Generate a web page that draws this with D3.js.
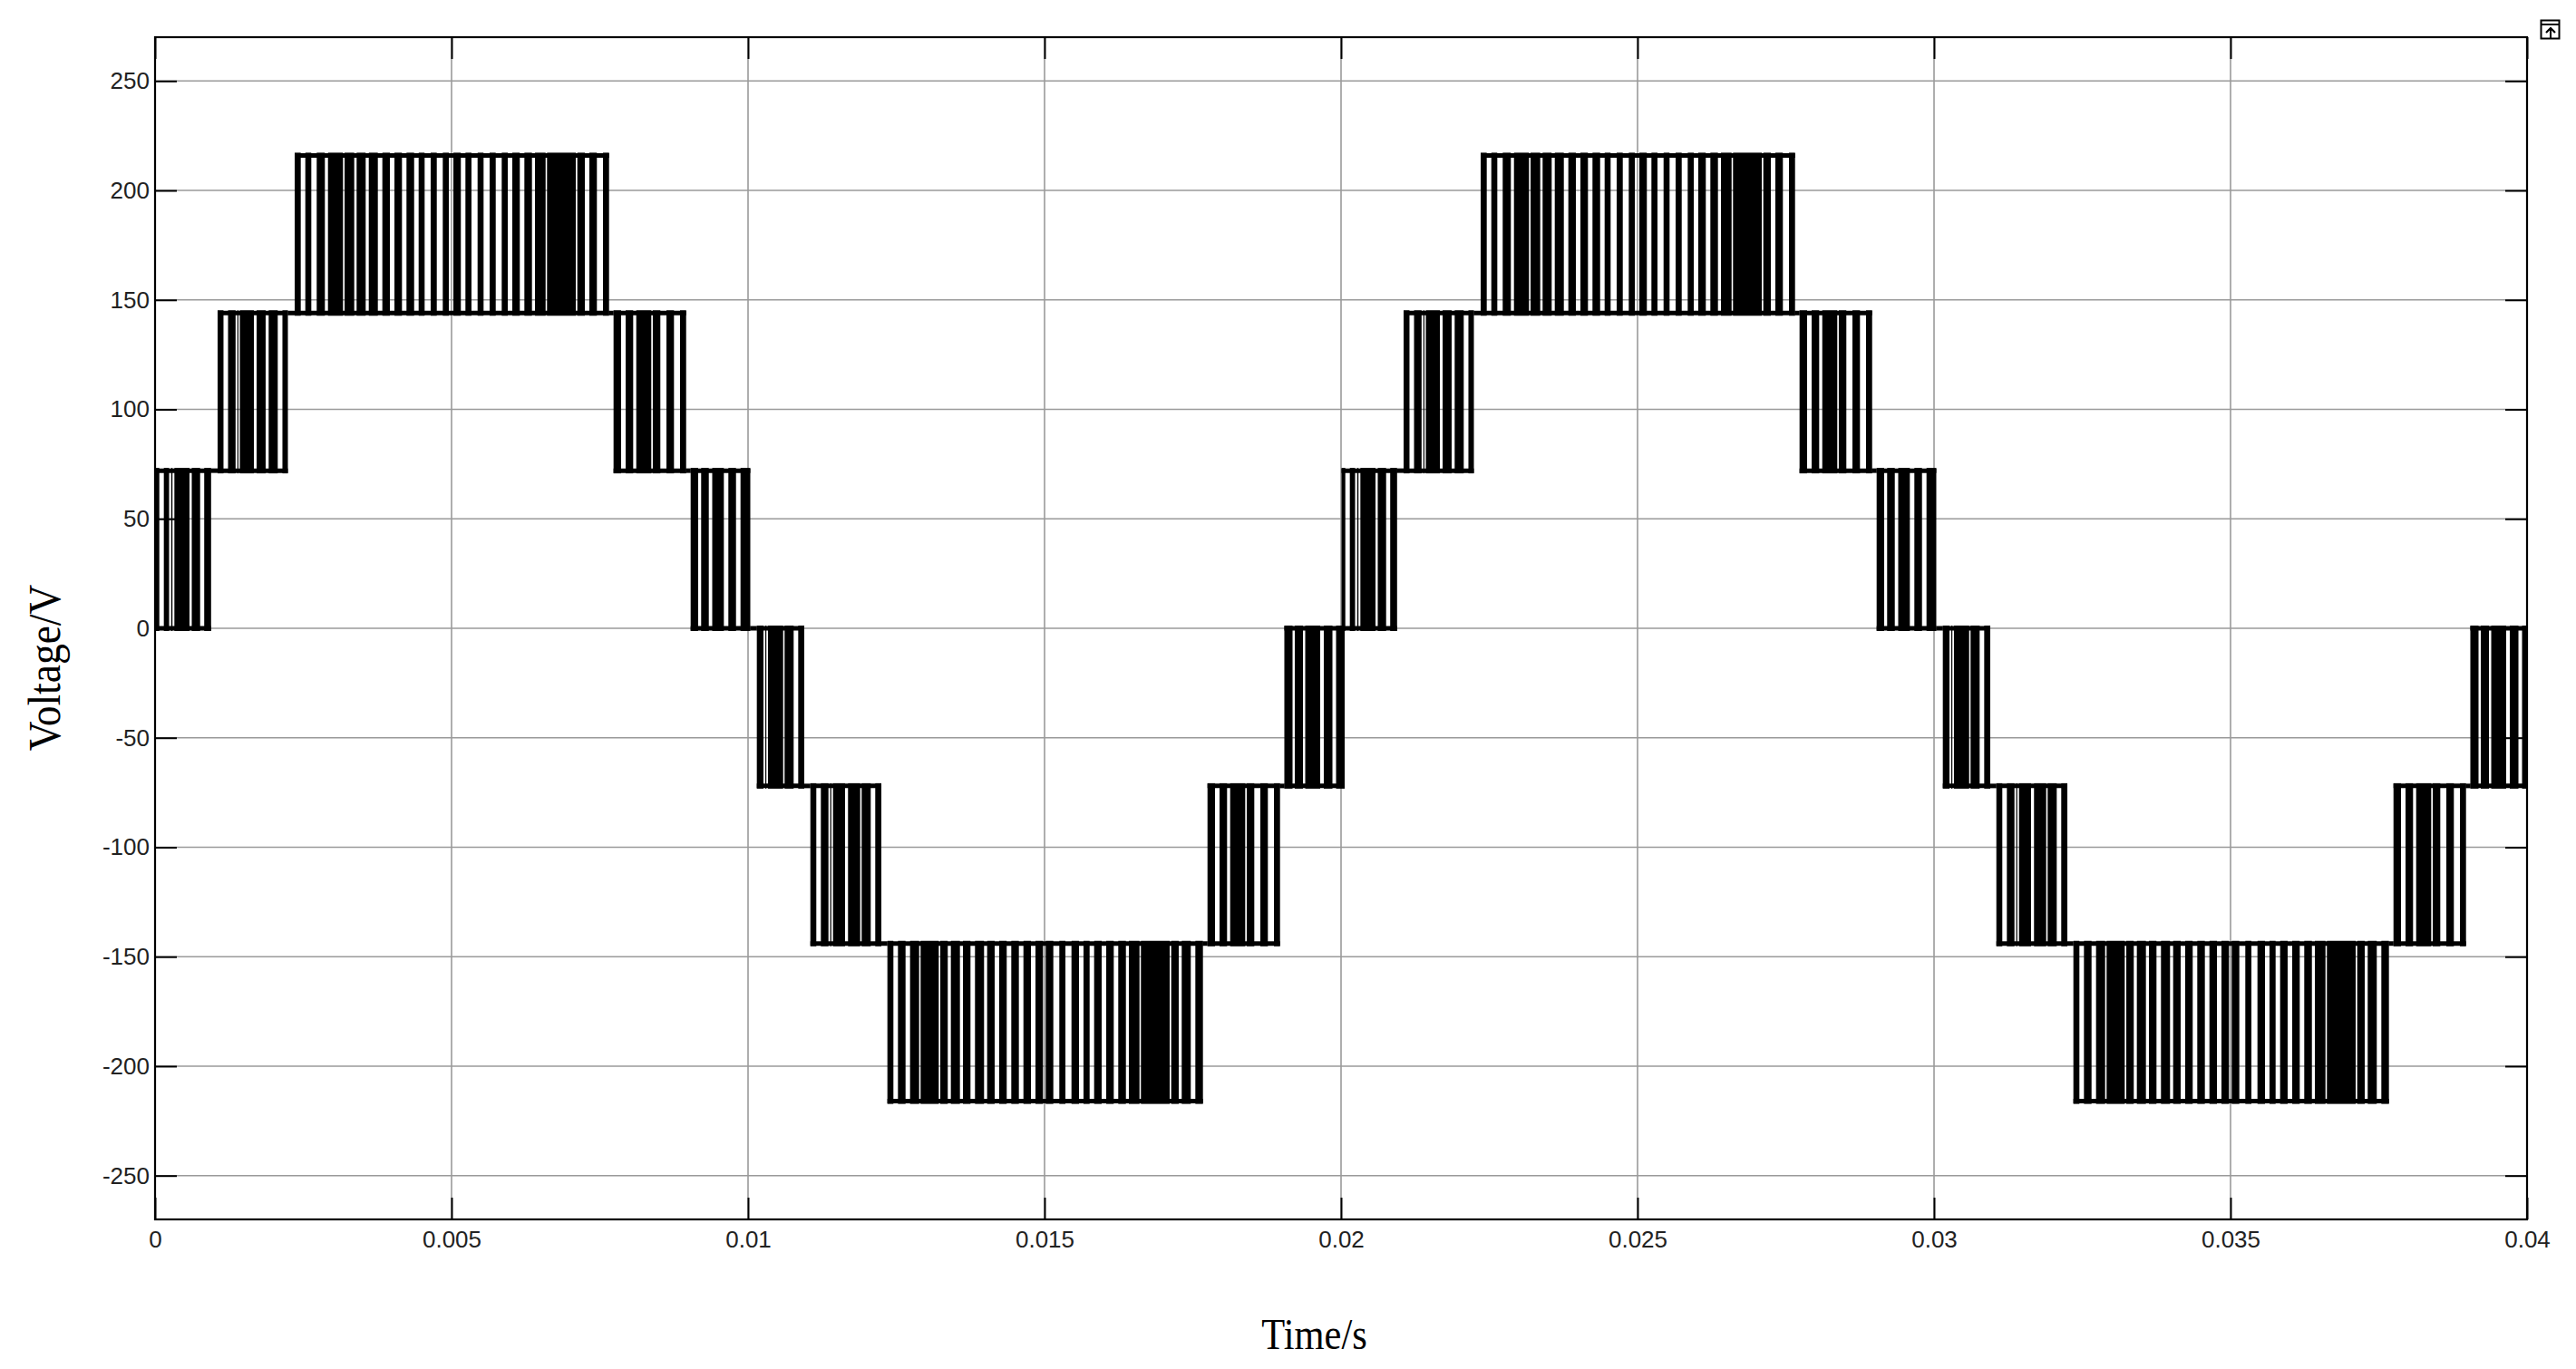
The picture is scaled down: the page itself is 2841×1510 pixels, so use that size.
<!DOCTYPE html>
<html><head><meta charset="utf-8">
<script src="https://cdn.jsdelivr.net/npm/d3@7"></script>
<style>
html,body{margin:0;padding:0;background:#fff;}
svg{display:block;}
</style></head>
<body>
<svg id="chart" width="2841" height="1510"></svg>
<script>
// ---------- data (time in ms, voltage in V) ----------
const xTickValues = [0, 5, 10, 15, 20, 25, 30, 35, 40];
const xTickLabels = ["0", "0.005", "0.01", "0.015", "0.02", "0.025", "0.03", "0.035", "0.04"];
const yTickValues = [-250, -200, -150, -100, -50, 0, 50, 100, 150, 200, 250];
const yTickLabels = ["-250", "-200", "-150", "-100", "-50", "0", "50", "100", "150", "200", "250"];

// voltage band of each switching stage within one fundamental cycle
const bandLow  = [0, 72, 144, 72, 0, -72, -144, -216, -144, -72];
const bandHigh = [72, 144, 216, 144, 72, 0, -72, -144, -72, 0];

// switching bursts [start, end] (ms), cycle 1
const barsA1 = [[0.008,0.072],[0.148,0.237],[0.272,0.294],[0.326,0.581],[0.619,0.760],[0.829,0.945]];
const barsB1 = [[1.055,1.154],[1.231,1.358],[1.388,1.406],[1.430,1.667],[1.713,1.865],[1.916,2.069],[2.148,2.240]];
const barsC1 = [[2.355,2.457],[2.534,2.635],[2.726,2.864],[2.916,3.170],[3.196,3.359],[3.399,3.552],[3.604,3.757],[3.833,3.960],[4.037,4.164],[4.240,4.369],[4.445,4.546],[4.648,4.751],[4.852,4.954],[5.031,5.157],[5.234,5.336],[5.439,5.540],[5.642,5.745],[5.846,5.948],[6.024,6.151],[6.228,6.356],[6.407,6.586],[6.610,7.095],[7.121,7.248],[7.324,7.451],[7.554,7.656]];
const barsD1 = [[7.732,7.859],[7.936,8.063],[8.115,8.368],[8.394,8.521],[8.624,8.751],[8.853,8.956]];
const barsE1 = [[9.032,9.159],[9.209,9.338],[9.396,9.592],[9.668,9.797],[9.873,10.038]];
const barsF1 = [[10.148,10.260],[10.291,10.309],[10.336,10.592],[10.616,10.769],[10.846,10.948]];
const barsG1 = [[11.051,11.151],[11.228,11.356],[11.385,11.404],[11.433,11.636],[11.686,11.891],[11.916,12.069],[12.145,12.248]];
const barsH1 = [[12.350,12.451],[12.528,12.656],[12.732,12.885],[12.910,13.216],[13.242,13.368],[13.420,13.573],[13.624,13.751],[13.827,13.980],[14.032,14.159],[14.235,14.362],[14.439,14.567],[14.644,14.771],[14.847,14.974],[15.020,15.148],[15.249,15.352],[15.454,15.581],[15.657,15.760],[15.836,15.963],[16.040,16.167],[16.243,16.372],[16.422,16.601],[16.625,17.110],[17.136,17.263],[17.313,17.466],[17.543,17.671]];
const barsI1 = [[17.748,17.875],[17.951,18.078],[18.130,18.384],[18.410,18.537],[18.639,18.766],[18.869,18.971]];
const barsJ1 = [[19.044,19.182],[19.220,19.358],[19.396,19.648],[19.709,19.855],[19.916,20.061]];

// cycle 2
const barsA2 = [[20.008,20.072],[20.148,20.237],[20.272,20.294],[20.326,20.581],[20.619,20.760],[20.829,20.945]];
const barsB2 = [[21.055,21.154],[21.231,21.358],[21.388,21.406],[21.430,21.667],[21.713,21.865],[21.916,22.069],[22.148,22.240]];
const barsC2 = [[22.355,22.457],[22.534,22.635],[22.726,22.864],[22.916,23.170],[23.196,23.359],[23.399,23.552],[23.604,23.757],[23.833,23.960],[24.037,24.164],[24.240,24.369],[24.445,24.546],[24.648,24.751],[24.852,24.954],[25.031,25.157],[25.234,25.336],[25.439,25.540],[25.642,25.745],[25.846,25.948],[26.024,26.151],[26.228,26.356],[26.407,26.586],[26.610,27.095],[27.121,27.248],[27.324,27.451],[27.554,27.656]];
const barsD2 = [[27.732,27.859],[27.936,28.063],[28.115,28.368],[28.394,28.521],[28.624,28.751],[28.853,28.956]];
const barsE2 = [[29.032,29.159],[29.209,29.338],[29.396,29.592],[29.668,29.797],[29.873,30.038]];
const barsF2 = [[30.148,30.260],[30.291,30.309],[30.336,30.592],[30.616,30.769],[30.846,30.948]];
const barsG2 = [[31.051,31.151],[31.228,31.356],[31.385,31.404],[31.433,31.636],[31.686,31.891],[31.916,32.069],[32.145,32.248]];
const barsH2 = [[32.350,32.451],[32.528,32.656],[32.732,32.885],[32.910,33.216],[33.242,33.368],[33.420,33.573],[33.624,33.751],[33.827,33.980],[34.032,34.159],[34.235,34.362],[34.439,34.567],[34.644,34.771],[34.847,34.974],[35.020,35.148],[35.249,35.352],[35.454,35.581],[35.657,35.760],[35.836,35.963],[36.040,36.167],[36.243,36.372],[36.422,36.601],[36.625,37.110],[37.136,37.263],[37.313,37.466],[37.543,37.671]];
const barsI2 = [[37.748,37.875],[37.951,38.078],[38.130,38.384],[38.410,38.537],[38.639,38.766],[38.869,38.971]];
const barsJ2 = [[39.044,39.182],[39.220,39.358],[39.396,39.648],[39.709,39.855],[39.916,40.061]];

const cycles = [
  [barsA1, barsB1, barsC1, barsD1, barsE1, barsF1, barsG1, barsH1, barsI1, barsJ1],
  [barsA2, barsB2, barsC2, barsD2, barsE2, barsF2, barsG2, barsH2, barsI2, barsJ2]
];

// ---------- drawing ----------
const svg = d3.select("#chart");
const pL = 171, pR = 2787, pT = 41, pB = 1345;
const x = d3.scaleLinear().domain([0, 40]).range([pL, pR]);
const y = d3.scaleLinear().domain([-270, 270]).range([pB, pT]);

svg.append("rect").attr("width", 2841).attr("height", 1510).attr("fill", "#fff");

// grid
const grid = svg.append("g").attr("stroke", "#9a9a9a").attr("stroke-width", 1.6);
grid.selectAll("line.v").data(xTickValues).join("line").attr("class", "v")
  .attr("x1", d => x(d)).attr("x2", d => x(d)).attr("y1", pT).attr("y2", pB);
grid.selectAll("line.h").data(yTickValues).join("line").attr("class", "h")
  .attr("x1", pL).attr("x2", pR).attr("y1", d => y(d)).attr("y2", d => y(d));

// waveform
svg.append("clipPath").attr("id", "clip").append("rect")
  .attr("x", pL).attr("y", pT).attr("width", pR - pL).attr("height", pB - pT);
const plot = svg.append("g").attr("clip-path", "url(#clip)");

const segs = [];
cycles.forEach(cyc => cyc.forEach((bars, i) => segs.push({
  lo: bandLow[i], hi: bandHigh[i], bars: bars,
  start: bars[0][0], end: bars[bars.length - 1][1]
})));

const hLines = [];
hLines.push({ t0: 0, t1: segs[0].start, v: segs[0].lo });
segs.forEach((s, k) => {
  hLines.push({ t0: s.start, t1: s.end, v: s.lo });
  hLines.push({ t0: s.start, t1: s.end, v: s.hi });
  const n = segs[k + 1];
  if (n) {
    const shared = [s.lo, s.hi].find(v => v === n.lo || v === n.hi);
    if (n.start > s.end) hLines.push({ t0: s.end, t1: n.start, v: shared });
  } else if (s.end < 40) {
    hLines.push({ t0: s.end, t1: 40, v: s.hi });
  }
});

plot.append("g").selectAll("line").data(hLines).join("line")
  .attr("x1", d => x(d.t0)).attr("x2", d => x(d.t1))
  .attr("y1", d => y(d.v)).attr("y2", d => y(d.v))
  .attr("stroke", "#000").attr("stroke-width", 5);

const allBars = [];
segs.forEach(s => s.bars.forEach(b => allBars.push({ t0: b[0], t1: b[1], lo: s.lo, hi: s.hi })));
plot.append("g").selectAll("rect").data(allBars).join("rect")
  .attr("x", d => x(d.t0))
  .attr("width", d => Math.max(1, x(d.t1) - x(d.t0)))
  .attr("y", d => y(d.hi) - 3)
  .attr("height", d => y(d.lo) - y(d.hi) + 6)
  .attr("fill", "#000");

// axes
const tickFont = "'Liberation Sans', Arial, Helvetica, sans-serif";
function styleAxis(g) {
  g.select(".domain").remove();
  g.selectAll(".tick line").attr("stroke", "#000").attr("stroke-width", 2);
  g.selectAll(".tick text").attr("fill", "#222").style("font-family", tickFont).style("font-size", "26px");
}
svg.append("g").attr("transform", `translate(${pL},0)`)
  .call(d3.axisLeft(y).tickValues(yTickValues).tickFormat((d, i) => yTickLabels[i])
    .tickSizeInner(-24).tickSizeOuter(0).tickPadding(6))
  .call(styleAxis);
svg.append("g").attr("transform", `translate(${pR},0)`)
  .call(d3.axisRight(y).tickValues(yTickValues).tickFormat("")
    .tickSizeInner(-24).tickSizeOuter(0))
  .call(styleAxis);
svg.append("g").attr("transform", `translate(0,${pB})`)
  .call(d3.axisBottom(x).tickValues(xTickValues).tickFormat((d, i) => xTickLabels[i])
    .tickSizeInner(-24).tickSizeOuter(0).tickPadding(13))
  .call(styleAxis);
svg.append("g").attr("transform", `translate(0,${pT})`)
  .call(d3.axisTop(x).tickValues(xTickValues).tickFormat("")
    .tickSizeInner(-24).tickSizeOuter(0))
  .call(styleAxis);

// frame
svg.append("rect").attr("x", pL).attr("y", pT)
  .attr("width", pR - pL).attr("height", pB - pT)
  .attr("fill", "none").attr("stroke", "#000").attr("stroke-width", 2.2);

// axis titles
const serif = "'Liberation Serif', 'Times New Roman', Times, serif";
svg.append("text")
  .attr("transform", "translate(1449.5,1488) scale(0.885,1)")
  .attr("text-anchor", "middle")
  .style("font-family", serif).style("font-size", "48px").attr("fill", "#000")
  .text("Time/s");
svg.append("text")
  .attr("transform", "translate(66,736.5) rotate(-90) scale(0.91,1)")
  .attr("text-anchor", "middle")
  .style("font-family", serif).style("font-size", "50px").attr("fill", "#000")
  .text("Voltage/V");

// small scope icon at the top right corner
const icon = svg.append("g").attr("fill", "none").attr("stroke", "#000").attr("stroke-width", 2);
icon.append("rect").attr("x", 2802.5).attr("y", 22.5).attr("width", 20).attr("height", 20);
icon.append("line").attr("x1", 2802.5).attr("x2", 2822.5).attr("y1", 27).attr("y2", 27);
icon.append("line").attr("x1", 2813).attr("x2", 2813).attr("y1", 31).attr("y2", 42.5);
icon.append("path").attr("d", "M2808,36 L2813,31 L2818,36").attr("stroke-width", 2.2);
</script>
</body></html>
